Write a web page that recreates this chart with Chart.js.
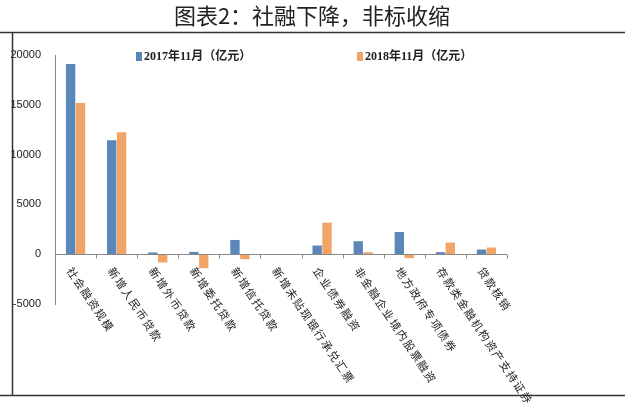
<!DOCTYPE html>
<html><head><meta charset="utf-8">
<script src="https://cdn.jsdelivr.net/npm/chart.js@4"></script>
<style>html,body{margin:0;padding:0;background:#fff;}#w{position:relative;width:625px;height:405px;}
canvas{position:absolute;left:0;top:0;}</style></head>
<body><div id="w"><canvas id="c" width="625" height="405"></canvas></div>
<script>
const title = "图表2：社融下降，非标收缩";
const categories = ["社会融资规模","新增人民币贷款","新增外币贷款","新增委托贷款","新增信托贷款","新增未贴现银行承兑汇票","企业债券融资","非金融企业境内股票融资","地方政府专项债券","存款类金融机构资产支持证券","贷款核销"];
const series2017 = [19100,11430,170,230,1430,-30,870,1300,2230,200,470];
const series2018 = [15170,12240,-830,-1400,-500,-60,3170,200,-400,1170,670];
const seriesNames = ["2017年11月（亿元）","2018年11月（亿元）"];
const yTicks = [-5000,0,5000,10000,15000,20000];
const blue = "#5b87b8", orange = "#f2a466";
const deco = {
  id:"deco",
  afterDraw(ch){
    const c = ch.ctx, x = ch.scales.x, y = ch.scales.y;
    c.save();
    c.fillStyle="#222"; c.font='22px "Noto Sans CJK SC", serif'; c.textAlign="center"; c.textBaseline="middle";
    c.fillText(title, 312, 16);
    c.strokeStyle="#333"; c.lineWidth=1.5;
    c.beginPath(); c.moveTo(0,32.5); c.lineTo(625,32.5); c.moveTo(12.5,32); c.lineTo(12.5,396); c.moveTo(0,395.5); c.lineTo(625,395.5); c.stroke();
    c.strokeStyle="#888"; c.lineWidth=1;
    const y0 = Math.round(y.getPixelForValue(0))+0.5;
    c.beginPath(); c.moveTo(x.left,y0); c.lineTo(x.right,y0);
    for(let i=0;i<=categories.length;i++){const px=Math.round(x.left+(x.right-x.left)*i/categories.length)+0.5;c.moveTo(px,y0);c.lineTo(px,y0+4);} c.stroke();
    c.fillStyle="#222"; c.font='11px "Noto Sans CJK SC", serif'; c.textAlign="left"; c.textBaseline="middle";
    categories.forEach((t,i)=>{
      const px = x.getPixelForValue(i);
      c.save(); c.translate(px-6, y0+14); c.rotate(56*Math.PI/180);
      let ox=0; for(const ch2 of t){c.fillText(ch2,ox,0); ox+=12.5;}
      c.restore();
    });
    c.font='bold 12px "Liberation Serif","Noto Sans CJK SC", serif'; c.textBaseline="middle";
    [[136,blue,seriesNames[0]],[357,orange,seriesNames[1]]].forEach(([lx,col,t])=>{
      c.fillStyle=col; c.fillRect(lx,52,6,9); c.fillStyle="#222"; c.fillText(t,lx+8,57);
    });
    c.restore();
  }
};
new Chart(document.getElementById("c"),{
  type:"bar",
  data:{labels:categories,datasets:[
    {label:seriesNames[0],data:series2017,backgroundColor:blue,categoryPercentage:0.48,barPercentage:0.95},
    {label:seriesNames[1],data:series2018,backgroundColor:orange,categoryPercentage:0.48,barPercentage:0.95}]},
  options:{responsive:false,animation:false,
    layout:{padding:{top:55,bottom:101,right:118,left:0}},
    plugins:{legend:{display:false},tooltip:{enabled:false}},
    scales:{
      x:{grid:{display:false,drawTicks:false},border:{display:false},ticks:{display:false}},
      y:{min:-5000,max:20000,afterBuildTicks(a){a.ticks=yTicks.map(v=>({value:v}));},
        afterFit(a){a.width=55;},grid:{display:false},border:{color:"#888"},
        ticks:{color:"#222",font:{size:11,family:"Liberation Sans"},padding:6,callback:v=>String(v)}}
    }},
  plugins:[deco]
});
</script></body></html>
